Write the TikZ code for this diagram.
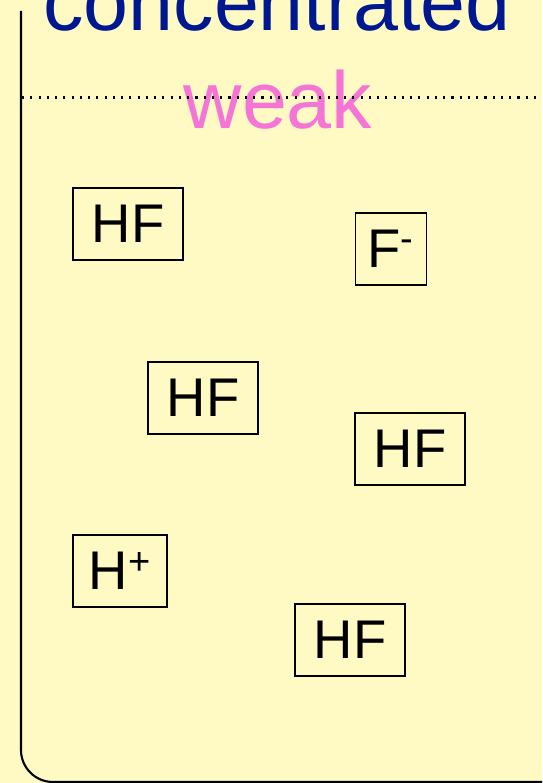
\documentclass[tikz,border=0pt]{standalone}
\usepackage{fontspec}
\setmainfont{Liberation Sans}
\usepackage{xcolor}
\usetikzlibrary{positioning}
\definecolor{beakerbg}{RGB}{255,250,196}
\definecolor{concblue}{RGB}{0,24,143}
\definecolor{weakpink}{RGB}{244,117,214}

\begin{document}
\begin{tikzpicture}[
  x=0.02cm, y=-0.02cm,
  particle/.style={draw, line width=1pt, minimum height=1.44cm,
                   minimum width=#1, inner sep=0pt,
                   font=\fontsize{31}{36}\selectfont},
  particle/.default=2.2cm,
  headword/.style={font=\fontsize{46}{52}\selectfont, anchor=base},
]
%% Background and frame
\fill[beakerbg] (0,0) rectangle (542,783);
\useasboundingbox (0,0) rectangle (542,783);
\begin{scope}
\clip (0,0) rectangle (542,783);
\draw[line width=1.2pt, rounded corners=0.64cm]
  (21,11) -- (21,782) -- (620,782) -- (620,11);
\end{scope}
%% Labels
\node[headword, text=concblue] (conc) at (277,31) {concentrated};
\node[headword, text=weakpink] (weak) at (278,129) {weak};
\draw[line width=1.3pt, dash pattern=on 1.2pt off 3.5pt] (22,97.5) -- (542,97.5);
%% Particles
\node[particle] (hfa) at (128,224) {HF};
\node[particle=1.42cm] (fminus) at (391,249) {F\textsuperscript{-}};
\node[particle] (hfb) at (203,398) {HF};
\node[particle] (hfc) at (410,449) {HF};
\node[particle=1.88cm] (hplus) at (120,571) {H\textsuperscript{+}};
\node[particle] (hfd) at (350,640) {HF};
\end{tikzpicture}
\end{document}
